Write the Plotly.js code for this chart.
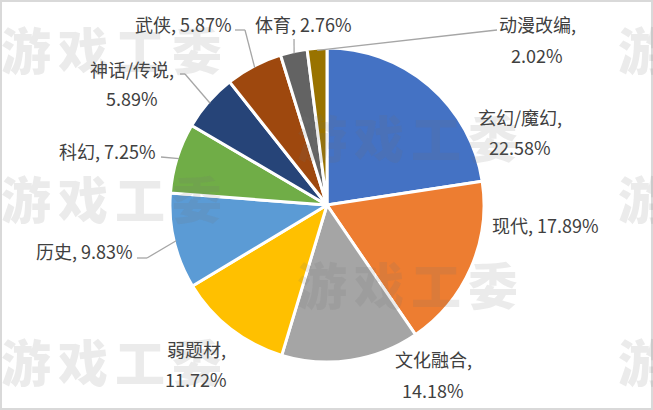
<!DOCTYPE html>
<html><head><meta charset="utf-8">
<script src="https://cdn.plot.ly/plotly-3.0.1.min.js"></script>
<style>html,body{margin:0;padding:0;background:#fff}#c{width:653px;height:410px}</style>
</head><body><div id="c"></div>
<script>
const categories = ["玄幻/魔幻","现代","文化融合","弱题材","历史","科幻","神话/传说","武侠","体育","动漫改编"];
const shares = [22.58,17.89,14.18,11.72,9.83,7.25,5.89,5.87,2.76,2.02];
const colors = ["#4472C4","#ED7D31","#A5A5A5","#FFC000","#5B9BD5","#70AD47","#264478","#9E480E","#636363","#997300"];
const watermarkChars = ["游","戏","工","委"];

const W=653,H=410,CX=327,CY=205,R=155;
const px=x=>x/W, py=y=>1-y/H;
const FONT='"Noto Sans CJK SC","Noto Sans",sans-serif';

// label placement: [center x, first line y, second line y or null]
const place=[[520,117,147],[545,225,null],[433,359,390],[196,349,379],[84,251,null],[107,151,null],[132,69,98],[183,24,null],[303,24,null],[537,24,55]];
// leader polylines: points from the label to the elbow (null = no leader)
const elbows=[null,null,null,null,[[137,258],[147,258]],[[161,157]],[[180,74],[185,74]],[[235,30],[245,30]],[[294,39]],[[497,30],[488,31]]];
const marks=[[0,48],[296,136],[0,197],[296,283],[0,360],[617,48],[617,197],[617,360]];

const annotations=[],shapes=[];
const total=shares.reduce((a,b)=>a+b,0);
let cum=0;
categories.forEach((c,i)=>{
  const mid=(cum+shares[i]/2)/total*2*Math.PI; cum+=shares[i];
  const ax=CX+R*Math.sin(mid), ay=CY-R*Math.cos(mid);
  const pct=shares[i].toFixed(2)+"%";
  const [x,y1,y2]=place[i];
  const add=(t,y)=>annotations.push({text:t,x:px(x),y:py(y),xref:"paper",yref:"paper",xanchor:"center",yanchor:"middle",showarrow:false,font:{family:FONT,size:18,color:"#404040"}});
  if(y2===null){add(c+", "+pct,y1);} else {add(c+",",y1);add(pct,y2);}
  if(elbows[i]){
    const pts=elbows[i].concat([[ax,ay]]);
    for(let k=0;k<pts.length-1;k++){
      shapes.push({type:"line",xref:"paper",yref:"paper",x0:px(pts[k][0]),y0:py(pts[k][1]),x1:px(pts[k+1][0]),y1:py(pts[k+1][1]),line:{color:"#A6A6A6",width:1.3}});
    }
  }
});
marks.forEach(([x,y])=>{
  watermarkChars.forEach((ch,k)=>{
    annotations.push({text:ch,x:px(x+26+k*57),y:py(y),xref:"paper",yref:"paper",xanchor:"center",yanchor:"middle",showarrow:false,
      font:{family:FONT,size:50,weight:900,color:"rgba(110,110,110,0.14)"}});
  });
});
shapes.push({type:"rect",xref:"paper",yref:"paper",x0:0,y0:0,x1:1,y1:1,line:{color:"#D9D9D9",width:4},fillcolor:"rgba(0,0,0,0)"});

Plotly.newPlot("c",[{
  type:"pie",labels:categories,values:shares,sort:false,direction:"clockwise",rotation:0,
  marker:{colors:colors,line:{color:"#fff",width:3}},textinfo:"none",hoverinfo:"label+percent",
  domain:{x:[px(CX-R-2),px(CX+R+2)],y:[py(CY+R+2),py(CY-R-2)]}
}],{
  width:W,height:H,margin:{l:0,r:0,t:0,b:0},showlegend:false,paper_bgcolor:"#fff",
  font:{family:FONT},annotations,shapes
},{displayModeBar:false,staticPlot:true});
</script></body></html>
